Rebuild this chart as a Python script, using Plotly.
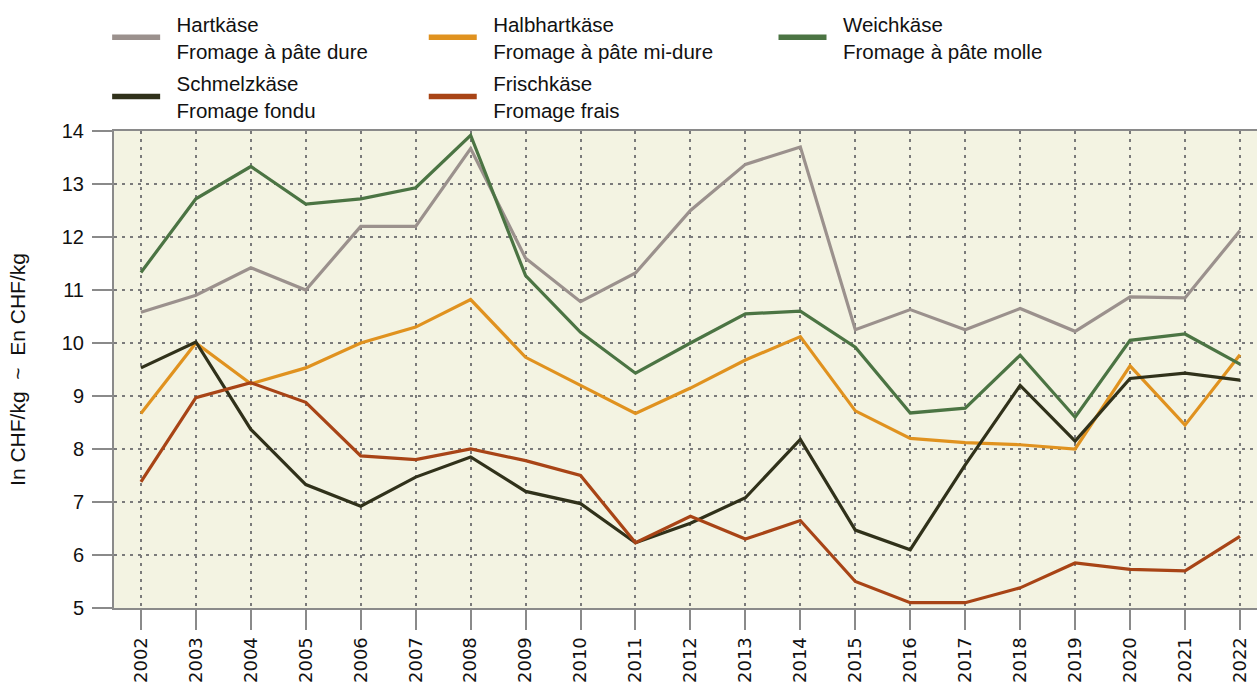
import plotly.graph_objects as go

years = list(range(2002, 2023))
hart = [10.58, 10.9, 11.42, 11.0, 12.2, 12.2, 13.67, 11.6, 10.78, 11.32, 12.5,
        13.37, 13.7, 10.25, 10.63, 10.25, 10.65, 10.22, 10.87, 10.85, 12.12]
halbhart = [8.67, 10.0, 9.23, 9.53, 10.0, 10.3, 10.82, 9.73, 9.2, 8.67, 9.15,
            9.68, 10.12, 8.72, 8.2, 8.12, 8.08, 8.0, 9.57, 8.45, 9.78]
weich = [11.33, 12.72, 13.33, 12.62, 12.72, 12.93, 13.92, 11.27, 10.2, 9.43, 10.0,
         10.55, 10.6, 9.92, 8.68, 8.77, 9.77, 8.6, 10.05, 10.17, 9.6]
schmelz = [9.53, 10.02, 8.37, 7.33, 6.92, 7.47, 7.85, 7.2, 6.97, 6.23, 6.6,
           7.08, 8.18, 6.47, 6.1, 7.7, 9.2, 8.15, 9.33, 9.43, 9.3]
frisch = [7.38, 8.97, 9.25, 8.88, 7.87, 7.8, 8.0, 7.78, 7.5, 6.23, 6.73,
          6.3, 6.65, 5.5, 5.1, 5.1, 5.38, 5.85, 5.73, 5.7, 6.35]

names_de = ["Hartkäse", "Halbhartkäse", "Weichkäse", "Schmelzkäse", "Frischkäse"]
names_fr = ["Fromage à pâte dure", "Fromage à pâte mi-dure", "Fromage à pâte molle",
            "Fromage fondu", "Fromage frais"]
series = [hart, halbhart, weich, schmelz, frisch]
colors = ["#9B918D", "#E0921F", "#4B7443", "#30311A", "#A84416"]
legends = ["legend", "legend2", "legend3", "legend", "legend2"]

pad = "\u00a0\u00a0"
fig = go.Figure()
for i in range(5):
    fig.add_trace(go.Scatter(x=years, y=series[i], mode="lines",
                             line=dict(color=colors[i], width=3.2),
                             showlegend=False, legendgroup=str(i), hoverinfo="skip"))
for i in range(5):
    fig.add_trace(go.Scatter(x=[None], y=[None], mode="lines",
                             name=pad + names_de[i] + "<br>" + pad + names_fr[i],
                             line=dict(color=colors[i], width=5.5),
                             legendgroup=str(i), legend=legends[i]))

font = dict(family="Liberation Sans, Arial, sans-serif", size=20, color="#111111")
legfont = dict(family="Liberation Sans, Arial, sans-serif", size=20.5, color="#111111")
leg_common = dict(font=legfont, bgcolor="rgba(0,0,0,0)", itemwidth=48,
                  yanchor="top", xanchor="left", tracegroupgap=3,
                  orientation="v")
grid_dash = "3px,5px"

fig.update_layout(
    width=1257, height=684,
    margin=dict(l=114, r=0, t=131, b=76, autoexpand=False),
    paper_bgcolor="white",
    plot_bgcolor="#F3F3E2",
    font=font,
    legend=dict(x=-0.006, y=1.266, **leg_common),
    legend2=dict(x=0.271, y=1.266, **leg_common),
    legend3=dict(x=0.577, y=1.266, **leg_common),
    xaxis=dict(range=[2001.51, 2022.31], tickmode="array", tickvals=years,
               ticktext=[str(y) for y in years], tickangle=-90, automargin=False,
               tickfont=dict(family="DejaVu Sans, Verdana, sans-serif", size=18, color="#111111"),
               ticks="outside", ticklen=20, tickwidth=1.5, tickcolor="#8A8A8A",
               showline=True, linecolor="#8A8A8A", linewidth=2, mirror=True,
               showgrid=True, gridcolor="#7A7A7A", griddash=grid_dash, gridwidth=1.6,
               zeroline=False, fixedrange=True),
    yaxis=dict(range=[5, 14], tickmode="array", tickvals=list(range(5, 15)),
               ticks="outside", ticklen=20, tickwidth=2, tickcolor="#8A8A8A",
               ticklabelstandoff=4, automargin=False,
               showline=True, linecolor="#8A8A8A", linewidth=2,
               showgrid=True, gridcolor="#7A7A7A", griddash=grid_dash, gridwidth=1.6,
               zeroline=False, fixedrange=True,
               title=dict(text="In CHF/kg  ~  En CHF/kg",
                          font=dict(family="Liberation Sans, Arial, sans-serif", size=21, color="#111111"),
                          standoff=30)),
)

fig.write_html("out.html", config={"displayModeBar": False},
               post_script="document.body.style.margin='0px';document.body.style.overflow='hidden';")
